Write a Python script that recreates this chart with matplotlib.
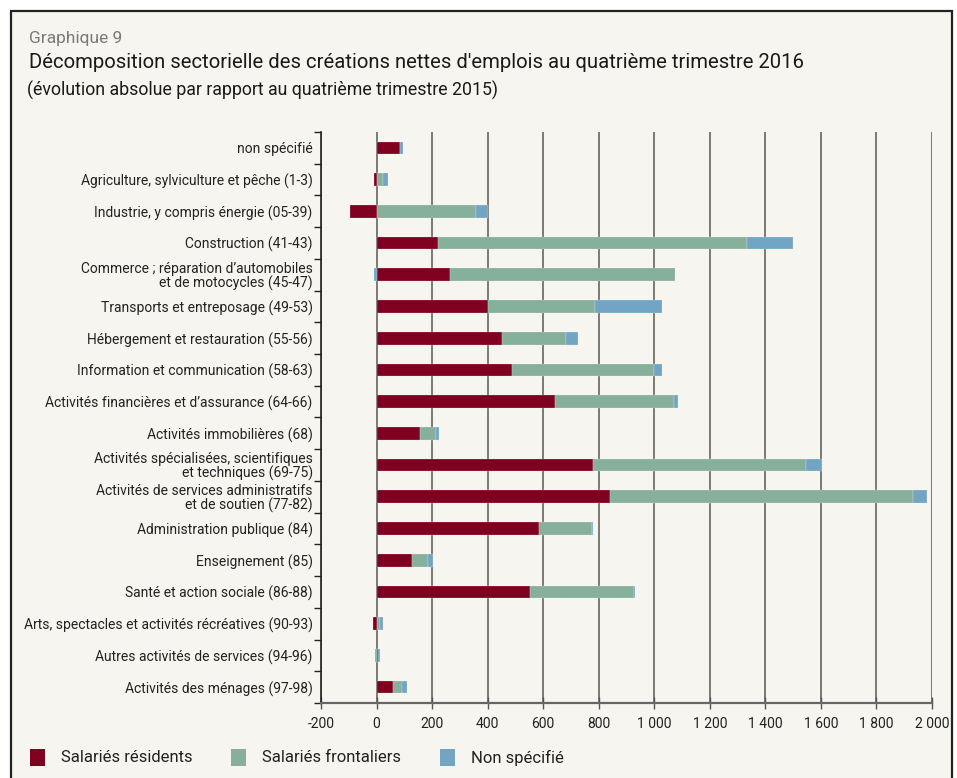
import numpy as np
import matplotlib.pyplot as plt
import matplotlib.patches as mpatches
from matplotlib import font_manager

# police étroite si dispo
noms = set(f.name for f in font_manager.fontManager.ttflist)
police = 'Liberation Sans Narrow' if 'Liberation Sans Narrow' in noms else 'Roboto'
plt.rcParams['font.family'] = [police, 'DejaVu Sans']

secteurs = ['non spécifié',
            'Agriculture, sylviculture et pêche (1-3)',
            'Industrie, y compris énergie (05-39)',
            'Construction (41-43)',
            'Commerce ; réparation d’automobiles\net de motocycles (45-47)',
            'Transports et entreposage (49-53)',
            'Hébergement et restauration (55-56)',
            'Information et communication (58-63)',
            'Activités financières et d’assurance (64-66)',
            'Activités immobilières (68)',
            'Activités spécialisées, scientifiques\net techniques (69-75)',
            'Activités de services administratifs\net de soutien (77-82)',
            'Administration publique (84)',
            'Enseignement (85)',
            'Santé et action sociale (86-88)',
            'Arts, spectacles et activités récréatives (90-93)',
            'Autres activités de services (94-96)',
            'Activités des ménages (97-98)']

residents = [85, -10, -97, 223, 263, 402, 452, 489, 643, 157, 779, 841, 584, 127, 554, -11, 7, 61]
frontaliers = [0, 23, 359, 1110, 813, 385, 231, 510, 429, 58, 768, 1089, 190, 59, 374, 14, -7, 30]
non_specifie = [10, 19, 43, 166, -10, 240, 41, 28, 13, 10, 57, 53, 5, 19, 3, 9, 7, 18]

series = ['Salariés résidents', 'Salariés frontaliers', 'Non spécifié']
couleurs = ['#800020', '#86b09b', '#72a5c3']
fond = '#f6f5f0'

fig = plt.figure(figsize=(9.57, 7.78), dpi=100, facecolor='white')
# cadre
cadre = mpatches.Rectangle((11/957, -0.05), 941/957, 1.05 - 11/778,
                           transform=fig.transFigure, facecolor=fond,
                           edgecolor='#222222', linewidth=1.6, zorder=-5)
fig.patches.append(cadre)

ax = fig.add_axes([321/957, 1 - 703/778, (932 - 321)/957, (703 - 132)/778])
ax.set_facecolor(fond)
ax.set_zorder(2)

y = np.arange(len(secteurs))
pos = np.zeros(len(secteurs))
neg = np.zeros(len(secteurs))
for vals, c, nom in zip([residents, frontaliers, non_specifie], couleurs, series):
    v = np.array(vals, dtype=float)
    gauche = np.where(v >= 0, pos, neg)
    ax.barh(y, v, left=gauche, height=0.4, color=c, edgecolor=(1, 1, 1, 0.5),
            linewidth=0.3, label=nom, zorder=3)
    pos = pos + np.where(v >= 0, v, 0)
    neg = neg + np.where(v < 0, v, 0)

ax.set_xlim(-200, 2000)
ax.set_ylim(len(secteurs) - 0.5, -0.5)
ax.set_xticks(np.arange(-200, 2001, 200))
ax.set_xticklabels(['-200', '0', '200', '400', '600', '800', '1 000', '1 200',
                    '1 400', '1 600', '1 800', '2 000'], fontsize=10, color='#222222')
ax.xaxis.grid(True, color='#6f6f6f', linewidth=1.3, zorder=1)
ax.set_axisbelow(True)

ax.set_yticks(y)
ax.set_yticklabels(secteurs, fontsize=10, color='#222222', linespacing=1.0)
ax.set_yticks(np.arange(-0.5, len(secteurs)), minor=True)
ax.tick_params(axis='y', which='major', length=0, pad=6)
ax.tick_params(axis='y', which='minor', length=5, width=1, color='#222222', direction='out')
ax.tick_params(axis='x', length=8, width=1, color='#555555', direction='inout', pad=6)

for s in ['top', 'right']:
    ax.spines[s].set_visible(False)
ax.spines['left'].set_color('#222222')
ax.spines['left'].set_linewidth(1.2)
ax.spines['bottom'].set_color('#666666')
ax.spines['bottom'].set_linewidth(1.6)

fig.text(29/957, 1 - 38/778, 'Graphique 9', fontsize=12.5, color='#7a7a7a', va='center')
fig.text(29/957, 1 - 63/778, 'Décomposition sectorielle des créations nettes d\'emplois au quatrième trimestre 2016',
         fontsize=14.6, color='#1a1a1a', va='center')
fig.text(27/957, 1 - 90/778, '(évolution absolue par rapport au quatrième trimestre 2015)',
         fontsize=12.8, color='#1a1a1a', va='center')

# légende faite à la main
x_carre = [30, 231, 440]
x_texte = [61, 262, 471]
for xc, xt, c, nom in zip(x_carre, x_texte, couleurs, series):
    fig.patches.append(mpatches.Rectangle((xc/957, 1 - 766/778), 15/957, 17/778,
                                          transform=fig.transFigure, facecolor=c,
                                          edgecolor='none', zorder=3))
    fig.text(xt/957, 1 - 758/778, nom, fontsize=12, color='#222222', va='center')

fig.savefig('out.png', dpi=100, facecolor='white')
